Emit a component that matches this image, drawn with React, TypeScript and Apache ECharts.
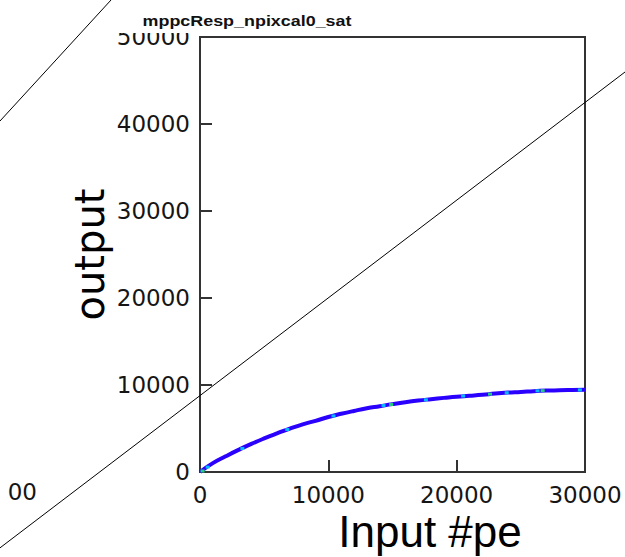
import React, { useEffect, useRef } from "react";
import * as echarts from "echarts";

// Input #pe (x) and output (y)
const inputPe = [0, 1000, 2000, 3000, 4000, 5000, 6000, 7000, 8000, 9000, 10000, 11000, 12000, 13000, 14000, 15000, 16000, 17000, 18000, 19000, 20000, 21000, 22000, 23000, 24000, 25000, 26000, 27000, 28000, 29000, 30000];
const outputVals = [0, 1020, 1800, 2540, 3230, 3860, 4440, 4990, 5480, 5880, 6320, 6690, 7020, 7320, 7560, 7800, 8020, 8210, 8370, 8520, 8660, 8760, 8870, 9020, 9130, 9200, 9290, 9360, 9410, 9430, 9440];

// a few brighter bins (cyan / green) seen along the band
const cyanX = [600, 3300, 6800, 10400, 14300, 17600, 20500, 23900, 26300, 29600];
const cyanY = [560, 2700, 4880, 6440, 7640, 8300, 8730, 9110, 9330, 9430];
const greenX = [200, 14900, 22600, 26700];
const greenY = [120, 7760, 8950, 9350];

const xTicks = { min: 0, max: 30000, interval: 10000 };
const yTicks = { min: 0, max: 50000, interval: 10000 };

const titleText = "mppcResp_npixcal0_sat";
const xName = "Input #pe";
const yName = "output";
const strayLabel = "00";

export default function App() {
  const ref = useRef<HTMLDivElement>(null);
  useEffect(() => {
    if (!ref.current) return;
    const chart = echarts.init(ref.current, null, { renderer: "svg" });
    const labelFont = { fontFamily: "DejaVu Sans", fontSize: 23, color: "#151515" };
    chart.setOption({
      animation: false,
      backgroundColor: "#ffffff",
      grid: {
        left: 200,
        right: 40,
        top: 37,
        bottom: 85,
        show: true,
        borderColor: "#333",
        borderWidth: 2,
        backgroundColor: "transparent",
        containLabel: false,
        outerBoundsMode: "none",
      },
      xAxis: {
        type: "value",
        min: xTicks.min,
        max: xTicks.max,
        interval: xTicks.interval,
        name: xName,
        nameLocation: "middle",
        nameGap: 37,
        nameMoveOverlap: false,
        nameTextStyle: {
          fontFamily: "Liberation Sans",
          fontSize: 44,
          color: "#000",
          padding: [0, 0, 0, 75],
        },
        axisLine: { show: true, lineStyle: { color: "#333", width: 2 } },
        axisTick: { show: true, inside: true, length: 12, lineStyle: { color: "#333", width: 2 } },
        splitLine: { show: false },
        axisLabel: { ...labelFont, margin: 11, formatter: (v: number) => String(v) },
      },
      yAxis: {
        type: "value",
        min: yTicks.min,
        max: yTicks.max,
        interval: yTicks.interval,
        name: yName,
        nameLocation: "middle",
        nameRotate: 90,
        nameGap: 90,
        nameMoveOverlap: false,
        nameTextStyle: { fontFamily: "DejaVu Sans", fontSize: 40, color: "#000" },
        axisLine: { show: true, lineStyle: { color: "#333", width: 2 } },
        axisTick: { show: true, inside: true, length: 12, lineStyle: { color: "#333", width: 2 } },
        splitLine: { show: false },
        axisLabel: { ...labelFont, margin: 10, formatter: (v: number) => String(v) },
      },
      series: [
        {
          type: "line",
          data: inputPe.map((x, i) => [x, outputVals[i]]),
          showSymbol: false,
          smooth: true,
          lineStyle: { color: "#2a00ff", width: 4 },
          z: 3,
        },
        {
          type: "scatter",
          data: cyanX.map((x, i) => [x, cyanY[i]]),
          symbol: "rect",
          symbolSize: [4, 3],
          itemStyle: { color: "#00e8ff" },
          z: 4,
        },
        {
          type: "scatter",
          data: greenX.map((x, i) => [x, greenY[i]]),
          symbol: "rect",
          symbolSize: [4, 3],
          itemStyle: { color: "#20ff60" },
          z: 4,
        },
      ],
      graphic: [
        {
          type: "text",
          x: 37,
          y: 492,
          z: 5,
          style: {
            text: strayLabel,
            font: '23px "DejaVu Sans"',
            fill: "#151515",
            textAlign: "right",
            textVerticalAlign: "middle",
          },
        },
        { type: "rect", z: 10, shape: { x: 108, y: 4, width: 262, height: 29 }, style: { fill: "#fff" } },
        {
          type: "text",
          x: 247,
          y: 21,
          z: 11,
          scaleX: 1.28,
          style: {
            text: titleText,
            font: 'bold 14px "Liberation Sans"',
            fill: "#111",
            textAlign: "center",
            textVerticalAlign: "middle",
          },
        },
        { type: "line", z: 20, shape: { x1: 0, y1: 121, x2: 111, y2: 0 }, style: { stroke: "#000", lineWidth: 1 } },
        { type: "line", z: 20, shape: { x1: -12, y1: 557, x2: 625, y2: 72 }, style: { stroke: "#000", lineWidth: 1 } },
      ],
    });
    return () => chart.dispose();
  }, []);
  return (
    <div
      ref={ref}
      style={{ position: "fixed", left: 0, top: 0, width: 625, height: 557, background: "#fff" }}
    />
  );
}
